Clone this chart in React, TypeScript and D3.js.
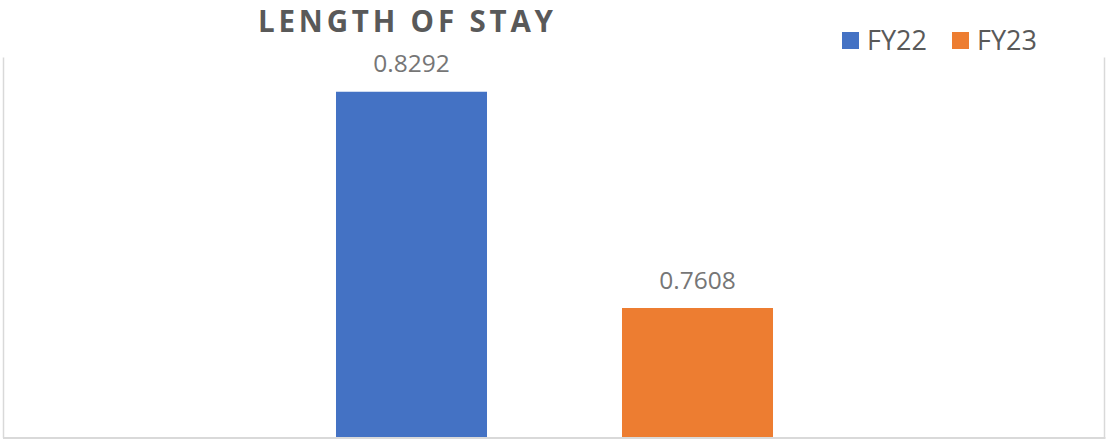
import React from "react";
import * as d3 from "d3";

const categories = ["Length of Stay"];
const seriesNames = ["FY22", "FY23"];
const seriesValues = [0.8292, 0.7608];
const seriesColors = ["#4472C4", "#ED7D31"];
const yDomain = [0.72, 0.84];
const title = "LENGTH OF STAY";

const W = 1107;
const H = 439;
const plot = { left: 4, right: 1105, top: 57.6, bottom: 437 };

export default function App() {
  const y = d3.scaleLinear().domain(yDomain).range([plot.bottom, plot.top]);
  const x0 = d3
    .scaleBand<string>()
    .domain(categories)
    .range([plot.left, plot.right])
    .paddingInner(0)
    .paddingOuter(0.7597);
  const x1 = d3
    .scaleBand<string>()
    .domain(seriesNames)
    .range([0, x0.bandwidth()])
    .paddingInner(0.472)
    .paddingOuter(0);

  const font = "'Open Sans', 'Liberation Sans', sans-serif";
  const legendX = [842, 952];

  return (
    <div style={{ position: "fixed", left: 0, top: 0 }}>
      <svg width={W} height={H} style={{ display: "block", background: "#fff" }}>
        {/* borders */}
        <line x1={3.5} x2={3.5} y1={plot.top} y2={plot.bottom + 1} stroke="#d9d9d9" strokeWidth={1.5} />
        <line x1={1104.5} x2={1104.5} y1={plot.top} y2={plot.bottom + 1} stroke="#d9d9d9" strokeWidth={1.5} />
        <line x1={3} x2={1105.5} y1={438} y2={438} stroke="#d9d9d9" strokeWidth={2} />

        {/* title */}
        <text
          x={258}
          y={31.5}
          fontFamily={font}
          fontWeight={700}
          fontSize={29.5}
          fill="#595959"
          textLength={295}
          lengthAdjust="spacing"
        >
          {title}
        </text>

        {/* legend */}
        {seriesNames.map((s, i) => (
          <g key={s}>
            <rect x={legendX[i]} y={32} width={17} height={17} fill={seriesColors[i]} />
            <text x={legendX[i] + 25} y={49.5} fontFamily={font} fontSize={27} fill="#595959">
              {s}
            </text>
          </g>
        ))}

        {/* bars */}
        {categories.map((c) => (
          <g key={c} transform={`translate(${x0(c)},0)`}>
            {seriesNames.map((s, i) => {
              const v = seriesValues[i];
              const bx = x1(s) as number;
              const bw = x1.bandwidth();
              return (
                <g key={s}>
                  <rect x={bx} y={y(v)} width={bw} height={y(yDomain[0]) - y(v)} fill={seriesColors[i]} />
                  <text
                    x={bx + bw / 2}
                    y={y(v) - 19.5}
                    textAnchor="middle"
                    fontFamily={font}
                    fontSize={24.5}
                    fill="#767676"
                  >
                    {v.toFixed(4)}
                  </text>
                </g>
              );
            })}
          </g>
        ))}
      </svg>
    </div>
  );
}
